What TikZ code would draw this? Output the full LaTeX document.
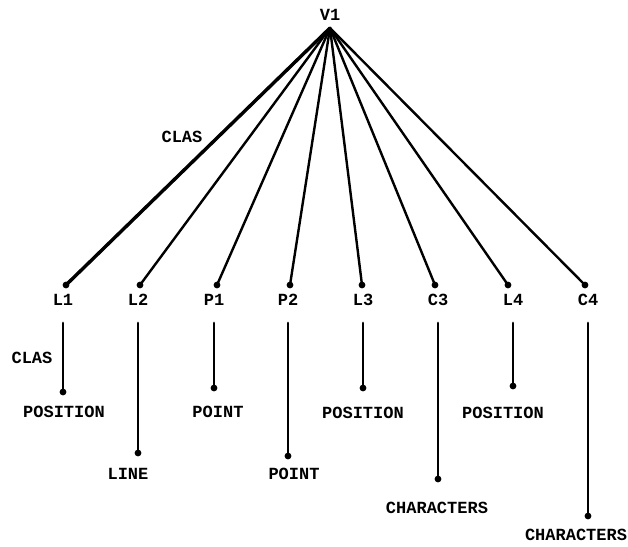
\documentclass[tikz,border=0pt]{standalone}
\usepackage{fontspec}
\setmonofont{Liberation Mono}
\begin{document}
\begin{tikzpicture}[x=1pt, y=-1pt,
    tag/.style={font=\ttfamily\bfseries\fontsize{17}{17}\selectfont, inner sep=1pt},
    spoke/.style={line width=2.4pt, line cap=round},
    stem/.style={line width=2.8pt, line cap=round}]
  \useasboundingbox (0,0) rectangle (628,546);
  \node[tag] (v1) at (330,15) {V1};
  \coordinate (apex) at (330,28);
  % one leaf per entry: name / x / end of spoke / foot of stem / word / word x / word y
  \foreach \name/\xpos/\tip/\foot/\word/\wx/\wy in {
      L1/63/66/392/POSITION/64/412,
      L2/138/140/453/LINE/128/474,
      P1/214/217/388/POINT/218/412,
      P2/288/290/456/POINT/294/474,
      L3/363/362/388/POSITION/363/413,
      C3/438/435/479/CHARACTERS/437/508,
      L4/513/508/386/POSITION/503/413,
      C4/588/585/516/CHARACTERS/576/535}{
    \node[tag] (\name) at (\xpos,300) {\name};
    \coordinate (\name-end) at (\tip,285);
    \coordinate (\name-top) at (\xpos,323);
    \coordinate (\name-foot) at (\xpos,\foot);
    \node[tag] (\name-word) at (\wx,\wy) {\word};
    \draw[spoke] (apex) -- (\name-end);
    \draw[stem] (\name-top) -- (\name-foot);
    \fill (\name-end) circle[radius=3.4pt];
    \fill (\name-foot) circle[radius=3.4pt];
  }
  % the CLAS spoke is drawn heavier
  \draw[spoke, line width=3.4pt] (apex) -- (L1-end);
  \node[tag] (clas-spoke) at (182,137) {CLAS};
  \node[tag] (clas-stem) at (32,358) {CLAS};
\end{tikzpicture}
\end{document}
